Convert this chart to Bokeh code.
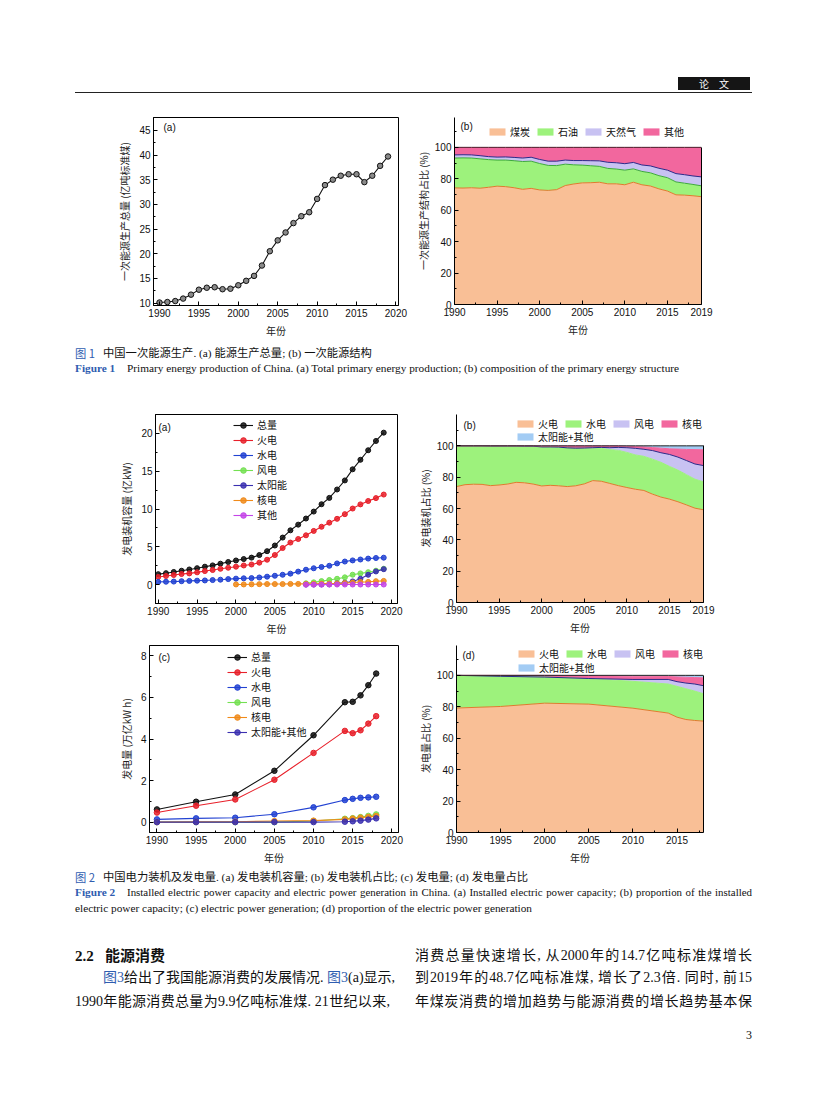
from bokeh.plotting import figure
from bokeh.models import (ColumnDataSource, Legend, LegendItem, Label, FixedTicker,
                          Div, Range1d, LinearAxis)
from bokeh.layouts import column, row
from bokeh.embed import file_html
from bokeh.resources import INLINE

CJK = "Noto Sans CJK SC"
NUM = "Liberation Sans"

# ---------------- data: Figure 1 ----------------
years_1 = list(range(1990, 2020))
prod_total = [10.1, 10.2, 10.4, 10.9, 11.7, 12.7, 13.1, 13.2, 12.8, 12.9,
              13.6, 14.5, 15.5, 17.6, 20.5, 22.7, 24.3, 26.2, 27.6, 28.4,
              31.1, 33.9, 35.0, 35.8, 36.1, 36.1, 34.5, 35.8, 37.8, 39.7]

coal = [74.2, 74.1, 74.3, 74.0, 74.6, 75.3, 75.0, 74.3, 73.3, 73.9,
        72.9, 72.6, 73.1, 75.7, 76.7, 77.4, 77.5, 77.8, 76.8, 76.8,
        76.2, 77.8, 76.2, 75.4, 73.6, 72.2, 69.8, 69.6, 69.2, 68.6]
oil = [19.0, 19.2, 18.9, 18.7, 17.6, 16.6, 16.9, 17.2, 17.7, 17.3,
       16.8, 15.9, 15.3, 13.6, 12.2, 11.3, 10.8, 10.1, 9.8, 9.4,
       9.3, 8.5, 8.5, 8.4, 8.4, 8.5, 8.2, 7.6, 7.2, 6.9]
gas = [2.0, 2.0, 2.0, 2.0, 1.9, 1.9, 2.0, 2.1, 2.2, 2.5,
       2.6, 2.7, 2.8, 2.6, 2.7, 2.9, 3.2, 3.5, 3.9, 4.0,
       4.1, 4.1, 4.1, 4.4, 4.7, 4.8, 5.3, 5.4, 5.4, 5.7]
other_1 = [4.8, 4.7, 4.8, 5.3, 5.9, 6.2, 6.1, 6.4, 6.8, 6.3,
           7.7, 8.8, 8.8, 8.1, 8.4, 8.4, 8.5, 8.6, 9.5, 9.8,
           10.4, 9.6, 11.2, 11.8, 13.3, 14.5, 16.7, 17.4, 18.2, 18.8]
names_1b = ["煤炭", "石油", "天然气", "其他"]

# ---------------- data: Figure 2(a) installed capacity ----------------
years_2a = list(range(1990, 2020))
cap_total = [1.38, 1.51, 1.67, 1.83, 2.00, 2.17, 2.37, 2.54, 2.77, 2.99,
             3.19, 3.38, 3.57, 3.91, 4.42, 5.17, 6.22, 7.18, 7.93, 8.74,
             9.66, 10.63, 11.47, 12.58, 13.78, 15.25, 16.51, 17.77, 19.00, 20.10]
cap_thermal = [1.01, 1.14, 1.27, 1.40, 1.48, 1.62, 1.79, 1.93, 2.09, 2.23,
               2.37, 2.53, 2.66, 2.90, 3.29, 3.91, 4.84, 5.56, 6.03, 6.52,
               7.10, 7.65, 8.19, 8.70, 9.32, 10.06, 10.61, 11.06, 11.44, 11.91]
cap_hydro = [0.36, 0.38, 0.40, 0.45, 0.49, 0.52, 0.55, 0.60, 0.65, 0.73,
             0.79, 0.83, 0.86, 0.94, 1.05, 1.17, 1.30, 1.45, 1.72, 1.97,
             2.16, 2.33, 2.49, 2.80, 3.05, 3.20, 3.32, 3.44, 3.52, 3.56]
years_2a_nuc = list(range(2000, 2020))
cap_nuclear = [0.02, 0.02, 0.04, 0.06, 0.07, 0.07, 0.07, 0.09, 0.09, 0.09,
               0.11, 0.13, 0.13, 0.15, 0.20, 0.27, 0.34, 0.36, 0.45, 0.49]
years_2a_new = list(range(2009, 2020))
cap_wind = [0.17, 0.30, 0.46, 0.61, 0.77, 0.96, 1.31, 1.48, 1.64, 1.84, 2.10]
cap_solar = [0.00, 0.01, 0.02, 0.03, 0.16, 0.25, 0.42, 0.77, 1.30, 1.74, 2.04]
cap_other = [0.00, 0.00, 0.00, 0.01, 0.01, 0.01, 0.01, 0.01, 0.01, 0.01, 0.01]

# ---------------- data: Figure 2(b) capacity shares (%) ----------------
years_2b = list(range(1990, 2020))
sc_thermal = [74.0, 75.2, 75.5, 75.4, 74.6, 75.0, 75.6, 76.7, 76.4, 75.6,
              74.4, 74.8, 74.5, 74.0, 74.5, 75.7, 77.8, 77.4, 76.0, 74.6,
              73.4, 72.3, 71.5, 69.2, 67.3, 66.0, 64.3, 62.3, 60.2, 59.2]
sc_hydro = [26.0, 24.8, 24.5, 24.6, 25.3, 24.9, 24.3, 23.2, 23.4, 24.2,
            24.8, 24.4, 24.6, 24.6, 23.9, 22.7, 20.7, 21.0, 21.6, 22.5,
            22.4, 21.9, 21.8, 22.3, 22.2, 20.9, 20.2, 19.3, 18.5, 17.8]
sc_wind = [0.0, 0.0, 0.0, 0.0, 0.0, 0.0, 0.0, 0.0, 0.0, 0.0,
           0.1, 0.1, 0.1, 0.1, 0.1, 0.2, 0.3, 0.6, 1.2, 1.9,
           3.0, 4.2, 4.5, 5.5, 6.1, 7.6, 8.3, 9.0, 9.7, 10.4]
sc_nuclear = [0.0, 0.0, 0.0, 0.0, 0.1, 0.1, 0.1, 0.1, 0.2, 0.2,
              0.6, 0.6, 0.7, 1.2, 1.4, 1.3, 1.1, 0.9, 1.1, 0.9,
              0.9, 1.1, 1.5, 1.9, 2.9, 3.6, 5.1, 7.1, 9.2, 10.1]
sc_solar = [0.0, 0.0, 0.0, 0.0, 0.0, 0.0, 0.0, 0.0, 0.0, 0.0,
            0.1, 0.1, 0.1, 0.1, 0.1, 0.1, 0.1, 0.1, 0.1, 0.1,
            0.3, 0.5, 0.7, 1.1, 1.5, 1.9, 2.1, 2.3, 2.4, 2.5]
names_2 = ["火电", "水电", "风电", "核电", "太阳能+其他"]

# ---------------- data: Figure 2(c) generation ----------------
years_2c = [1990, 1995, 2000, 2005, 2010, 2014, 2015, 2016, 2017, 2018]
gen_total = [0.61, 0.98, 1.33, 2.47, 4.18, 5.77, 5.79, 6.10, 6.59, 7.15]
gen_thermal = [0.46, 0.79, 1.09, 2.04, 3.33, 4.39, 4.28, 4.42, 4.74, 5.10]
gen_hydro = [0.13, 0.18, 0.21, 0.38, 0.71, 1.06, 1.12, 1.17, 1.19, 1.22]
gen_wind = [0.00, 0.00, 0.00, 0.00, 0.05, 0.16, 0.19, 0.24, 0.30, 0.37]
gen_nuclear = [0.00, 0.01, 0.02, 0.05, 0.07, 0.13, 0.17, 0.21, 0.25, 0.29]
gen_solar = [0.00, 0.00, 0.00, 0.00, 0.00, 0.02, 0.04, 0.07, 0.12, 0.18]

# ---------------- data: Figure 2(d) generation shares (%) ----------------
years_2d = [1990, 1995, 2000, 2005, 2010, 2014, 2015, 2016, 2017, 2018]
sg_thermal = [79.2, 80.2, 82.3, 81.7, 79.1, 76.0, 73.4, 71.9, 71.3, 70.9]
sg_hydro = [20.8, 19.2, 16.6, 16.2, 17.1, 18.5, 19.6, 19.6, 18.7, 17.4]
sg_wind = [0.0, 0.0, 0.0, 0.1, 1.2, 2.9, 3.0, 3.6, 4.5, 5.1]
sg_nuclear = [0.0, 0.6, 1.1, 1.8, 2.1, 1.9, 3.0, 3.7, 4.1, 5.0]
sg_solar = [0.0, 0.0, 0.0, 0.2, 0.5, 0.7, 1.0, 1.2, 1.4, 1.6]

# ---------------- styles ----------------
PEACH, GREEN, LAV, PINK, LBLUE = "#F9BF96", "#9DF27C", "#C8C2F2", "#F2679E", "#A3CCF4"
LINE_COLORS = {"总量": "#111111", "火电": "#E8202A", "水电": "#2242D2", "风电": "#74E052",
               "太阳能": "#3B30B0", "核电": "#F08A1A", "其他": "#C445E8",
               "太阳能+其他": "#3B30B0"}


def make_fig(xr, yr, bl, fw, br, bt, fh, bb, outline=True):
    p = figure(frame_width=fw, frame_height=fh, min_border_left=bl, min_border_right=br,
               min_border_top=bt, min_border_bottom=bb,
               x_range=Range1d(*xr), y_range=Range1d(*yr),
               output_backend="svg", toolbar_location=None, margin=(0, 0, 0, 0))
    p.xgrid.visible = False
    p.ygrid.visible = False
    p.outline_line_color = "black" if outline else None
    p.outline_line_width = 1
    p.border_fill_color = None
    p.background_fill_color = None
    return p


def style_axes(p, xlabel, ylabel, xticks, yticks, xminor, yminor, ylab_standoff=4):
    p.xaxis.axis_label = xlabel
    p.yaxis.axis_label = ylabel
    p.xaxis.ticker = FixedTicker(ticks=xticks, minor_ticks=xminor)
    p.yaxis.ticker = FixedTicker(ticks=yticks, minor_ticks=yminor)
    for ax in p.axis:
        ax.axis_line_color = "black"
        ax.axis_line_width = 1
        ax.major_tick_in = 4
        ax.major_tick_out = 0
        ax.minor_tick_in = 2
        ax.minor_tick_out = 0
        ax.major_tick_line_color = "black"
        ax.minor_tick_line_color = "black"
        ax.major_label_text_font = NUM
        ax.major_label_text_font_size = "10px"
        ax.major_label_text_color = "#111111"
        ax.major_label_standoff = 3
        ax.axis_label_text_font = CJK
        ax.axis_label_text_font_size = "10px"
        ax.axis_label_text_font_style = "normal"
        ax.axis_label_text_color = "#222222"
    p.xaxis.axis_label_standoff = 3
    p.yaxis.axis_label_standoff = ylab_standoff


def panel_label(p, text, x, y):
    p.add_layout(Label(x=x, y=y, x_units="screen", y_units="screen", text=text,
                       text_font=NUM, text_font_size="10px", text_baseline="middle",
                       text_align="left", text_color="#111111"))


def right_edge(p, top):
    ax = LinearAxis(bounds=(0, top), ticker=FixedTicker(ticks=[]),
                    major_label_text_font_size="0px", axis_line_color="black",
                    major_tick_in=0, major_tick_out=0, minor_tick_in=0, minor_tick_out=0)
    p.add_layout(ax, "right")


def line_legend(p, items, loc):
    lg = Legend(items=items, location=loc, orientation="vertical",
                glyph_width=20, glyph_height=14, label_height=14, label_standoff=4,
                spacing=0, padding=0, margin=0, border_line_color=None,
                background_fill_alpha=0, label_text_font=CJK, label_text_font_size="10px",
                label_text_color="#111111")
    p.add_layout(lg)


def area_legend(p, items, loc):
    lg = Legend(items=items, location=loc, orientation="horizontal",
                glyph_width=20, glyph_height=9, label_height=10, label_standoff=3,
                spacing=5, padding=0, margin=0, border_line_color=None,
                background_fill_alpha=0, label_text_font=CJK, label_text_font_size="10px",
                label_text_color="#111111")
    p.add_layout(lg)


five = [1990, 1995, 2000, 2005, 2010, 2015, 2020]
five_minor = [1992.5, 1997.5, 2002.5, 2007.5, 2012.5, 2017.5]

# ---------------- Figure 1(a) ----------------
p1a = make_fig((1989.24, 2020.33), (9.5, 47.6), 145, 245, 14, 9, 188, 33)
style_axes(p1a, "年份", "一次能源生产总量 (亿吨标准煤)", five, [10, 15, 20, 25, 30, 35, 40, 45],
           five_minor, [12.5, 17.5, 22.5, 27.5, 32.5, 37.5, 42.5, 47.5])
s1a = ColumnDataSource(dict(x=years_1, y=prod_total))
p1a.line("x", "y", source=s1a, line_color="#111111", line_width=1.1)
p1a.scatter("x", "y", source=s1a, size=5.5, fill_color="#8a8a8a", line_color="#111111", line_width=1)
panel_label(p1a, "(a)", 10, 178)

# ---------------- Figure 1(b) ----------------
p1b = make_fig((1990, 2019), (0, 119), 42, 247, 30, 9, 187, 34, outline=False)
yr20 = [0, 20, 40, 60, 80, 100]
y_minor20 = [10, 30, 50, 70, 90, 110]
style_axes(p1b, "年份", "一次能源生产结构占比 (%)", [1990, 1995, 2000, 2005, 2010, 2015, 2019],
           yr20, five_minor, y_minor20, ylab_standoff=1)
s1b = ColumnDataSource(dict(year=years_1, coal=coal, oil=oil, gas=gas, other=other_1))
ar1b = p1b.varea_stack(["coal", "oil", "gas", "other"], x="year", source=s1b,
                       fill_color=[PEACH, GREEN, LAV, PINK], fill_alpha=1)
p1b.vline_stack(["coal", "oil", "gas", "other"], x="year", source=s1b,
                line_color=["#E07A2E", "#3DAA3A", "#2A2A8A", "#4A1A28"], line_width=1)
right_edge(p1b, 100)
area_legend(p1b, [LegendItem(label=n, renderers=[r]) for n, r in zip(names_1b, ar1b)], (33, 165))
panel_label(p1b, "(b)", 6, 178)

# ---------------- Figure 2(a) ----------------
p2a = make_fig((1989.65, 2020.77), (-2.5, 22.5), 147, 242, 15, 17, 189, 32)
style_axes(p2a, "年份", "发电装机容量 (亿kW)", five, [0, 5, 10, 15, 20],
           five_minor, [-2.5, 2.5, 7.5, 12.5, 17.5, 22.5])
series_2a = [("总量", years_2a, cap_total), ("火电", years_2a, cap_thermal),
             ("水电", years_2a, cap_hydro), ("风电", years_2a_new, cap_wind),
             ("太阳能", years_2a_new, cap_solar), ("核电", years_2a_nuc, cap_nuclear),
             ("其他", years_2a_new, cap_other)]
items_2a = []
for name, xs, ys in series_2a:
    c = LINE_COLORS[name]
    src = ColumnDataSource(dict(x=xs, y=ys))
    rl = p2a.line("x", "y", source=src, line_color=c, line_width=1.1)
    rs = p2a.scatter("x", "y", source=src, size=5, fill_color=c, fill_alpha=0.85,
                     line_color=c, line_width=1)
    items_2a.append(LegendItem(label=name, renderers=[rl, rs]))
line_legend(p2a, items_2a, (78, 81))
panel_label(p2a, "(a)", 3, 176)

# ---------------- Figure 2(b) ----------------
p2b = make_fig((1990, 2019), (0, 120), 44, 247, 28, 17, 188, 33, outline=False)
style_axes(p2b, "年份", "发电装机占比 (%)", [1990, 1995, 2000, 2005, 2010, 2015, 2019],
           yr20, five_minor, y_minor20, ylab_standoff=1)
s2b = ColumnDataSource(dict(year=years_2b, th=sc_thermal, hy=sc_hydro, wi=sc_wind,
                            nu=sc_nuclear, so=sc_solar))
ar2b = p2b.varea_stack(["th", "hy", "wi", "nu", "so"], x="year", source=s2b,
                       fill_color=[PEACH, GREEN, LAV, PINK, LBLUE], fill_alpha=1)
p2b.vline_stack(["th", "hy", "wi", "nu", "so"], x="year", source=s2b,
                line_color=["#E07A2E", GREEN, "#2A2A8A", PINK, "#222222"], line_width=1)
right_edge(p2b, 100)
area_legend(p2b, [LegendItem(label=n, renderers=[r]) for n, r in zip(names_2[:4], ar2b[:4])], (59, 171))
area_legend(p2b, [LegendItem(label=names_2[4], renderers=[ar2b[4]])], (59, 158))
panel_label(p2b, "(b)", 7, 177)

# ---------------- Figure 2(c) ----------------
p2c = make_fig((1989.05, 2020.85), (-0.5, 8.5), 141, 249, 14, 7, 187, 35)
style_axes(p2c, "年份", "发电量 (万亿kW h)", five, [0, 2, 4, 6, 8],
           five_minor, [1, 3, 5, 7])
series_2c = [("总量", gen_total), ("火电", gen_thermal), ("水电", gen_hydro),
             ("风电", gen_wind), ("核电", gen_nuclear), ("太阳能+其他", gen_solar)]
items_2c = []
for name, ys in series_2c:
    c = LINE_COLORS[name]
    src = ColumnDataSource(dict(x=years_2c, y=ys))
    rl = p2c.line("x", "y", source=src, line_color=c, line_width=1.1)
    rs = p2c.scatter("x", "y", source=src, size=5.5, fill_color=c, fill_alpha=0.85,
                     line_color=c, line_width=1)
    items_2c.append(LegendItem(label=name, renderers=[rl, rs]))
line_legend(p2c, items_2c, (78, 93))
panel_label(p2c, "(c)", 9, 175)

# ---------------- Figure 2(d) ----------------
p2d = make_fig((1990, 2018), (0, 119), 44, 247, 28, 7, 187, 35, outline=False)
style_axes(p2d, "年份", "发电量占比 (%)", [1990, 1995, 2000, 2005, 2010, 2015],
           yr20, five_minor, y_minor20, ylab_standoff=1)
s2d = ColumnDataSource(dict(year=years_2d, th=sg_thermal, hy=sg_hydro, wi=sg_wind,
                            nu=sg_nuclear, so=sg_solar))
ar2d = p2d.varea_stack(["th", "hy", "wi", "nu", "so"], x="year", source=s2d,
                       fill_color=[PEACH, GREEN, LAV, PINK, LBLUE], fill_alpha=1)
p2d.vline_stack(["th", "hy", "wi", "nu", "so"], x="year", source=s2d,
                line_color=["#E07A2E", GREEN, "#2A2A8A", PINK, "#222222"], line_width=1)
right_edge(p2d, 100)
area_legend(p2d, [LegendItem(label=n, renderers=[r]) for n, r in zip(names_2[:4], ar2d[:4])], (60, 171))
area_legend(p2d, [LegendItem(label=names_2[4], renderers=[ar2d[4]])], (60, 157))
panel_label(p2d, "(d)", 6, 177)

# ---------------- page text ----------------
BLUE = "#2F5DB0"
SERIF = "'Liberation Serif','Noto Sans CJK SC'"
SANS = "'Noto Sans CJK SC'"
CAP = 11.3


def tline(left, top, text, size=CAP, width=None, family=SERIF, color="#111", weight="normal", lh=14):
    w = "" if width is None else f"width:{width}px;text-align:justify;text-align-last:justify;"
    return (f"<div style=\"position:absolute;left:{left}px;top:{top}px;font-size:{size}px;"
            f"line-height:{lh}px;white-space:nowrap;font-family:{family};color:{color};"
            f"font-weight:{weight};{w}\">{text}</div>")


header_html = (
    "<div style=\"position:relative;width:811px;height:100px;\">"
    "<div style=\"position:absolute;left:670px;top:69px;width:72px;height:13px;background:#151515;"
    "color:#fff;font-family:'Noto Sans CJK SC';font-size:10px;line-height:13px;text-align:center;"
    "letter-spacing:10px;text-indent:10px;\">论文</div>"
    "<div style=\"position:absolute;left:67px;top:84px;width:677px;height:0;"
    "border-top:1.4px solid #222;\"></div></div>")

cap1_html = (
    "<div style=\"position:relative;width:811px;height:57px;\">"
    + tline(67, 6, "图 1", family=SANS, color=BLUE)
    + tline(95, 6, "中国一次能源生产. (a) 能源生产总量; (b) 一次能源结构", family=SERIF)
    + tline(67, 21, "<b>Figure 1</b>", family=SERIF, color=BLUE)
    + tline(119, 21, "Primary energy production of China. (a) Total primary energy production; "
            "(b) composition of the primary energy structure")
    + "</div>")

body_html = (
    "<div style=\"position:relative;width:811px;height:200px;\">"
    + tline(67, 3, "图 2", family=SANS, color=BLUE)
    + tline(95, 3, "中国电力装机及发电量. (a) 发电装机容量; (b) 发电装机占比; (c) 发电量; (d) 发电量占比")
    + tline(67, 18, "<b>Figure 2</b>", color=BLUE)
    + tline(119, 18, "Installed electric power capacity and electric power generation in China. "
            "(a) Installed electric power capacity; (b) proportion of the installed", size=10.9, width=625)
    + tline(67, 34, "electric power capacity; (c) electric power generation; "
            "(d) proportion of the electric power generation")
    + tline(67, 80, "2.2&nbsp;&nbsp;&nbsp;能源消费", size=15, weight="bold", lh=18)
    + tline(95, 102, f"<span style='color:{BLUE}'>图3</span>给出了我国能源消费的发展情况. "
            f"<span style='color:{BLUE}'>图3</span>(a)显示,", size=14, width=287, lh=18)
    + tline(67, 126, "1990年能源消费总量为9.9亿吨标准煤. 21世纪以来,", size=14, width=315, lh=18)
    + tline(407, 80, "消费总量快速增长, 从2000年的14.7亿吨标准煤增长", size=14, width=337, lh=18)
    + tline(407, 102, "到2019年的48.7亿吨标准煤, 增长了2.3倍. 同时, 前15", size=14, width=337, lh=18)
    + tline(407, 126, "年煤炭消费的增加趋势与能源消费的增长趋势基本保", size=14, width=337, lh=18)
    + tline(738, 160, "3", size=12, lh=16)
    + "</div>")

header = Div(text=header_html, width=811, height=100, margin=(0, 0, 0, 0))
cap1 = Div(text=cap1_html, width=811, height=57, margin=(0, 0, 0, 0))
body = Div(text=body_html, width=811, height=200, margin=(0, 0, 0, 0))

page = column(header,
              row(p1a, p1b, spacing=0),
              cap1,
              row(p2a, p2b, spacing=0),
              row(p2c, p2d, spacing=0),
              body, spacing=0, margin=(8, 0, 0, 8))

open("out.html", "w").write(file_html(page, INLINE, title="plot"))
